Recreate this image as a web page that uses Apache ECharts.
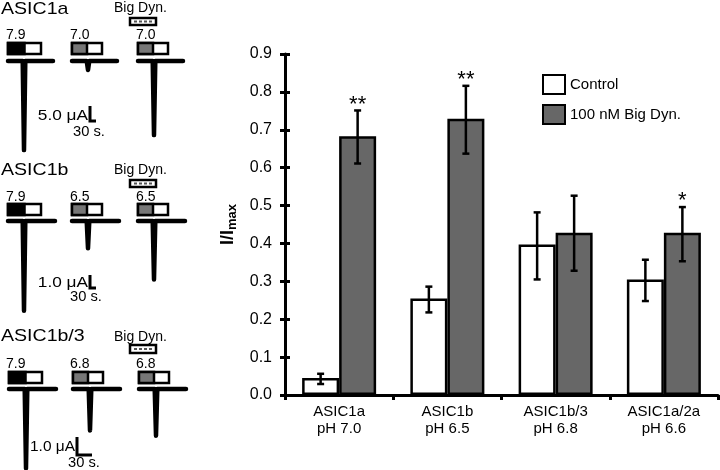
<!DOCTYPE html>
<html><head><meta charset="utf-8">
<script src="https://cdn.jsdelivr.net/npm/echarts@6/dist/echarts.min.js"></script>
<style>html,body{margin:0;padding:0;background:#fff}#c{width:720px;height:470px}</style>
</head><body><div id="c"></div>
<script>
// ---------- data: bar chart ----------
const categories = ['ASIC1a\npH 7.0', 'ASIC1b\npH 6.5', 'ASIC1b/3\npH 6.8', 'ASIC1a/2a\npH 6.6'];
const controlValues = [0.045, 0.255, 0.397, 0.305];
const dynValues = [0.683, 0.729, 0.428, 0.428];
const controlErrLow = [0.029, 0.218, 0.305, 0.248];
const controlErrHigh = [0.056, 0.286, 0.482, 0.357];
const dynErrLow = [0.611, 0.637, 0.328, 0.353];
const dynErrHigh = [0.751, 0.816, 0.526, 0.496];
const significance = ['**', '**', '', '*'];
const yTicks = [0, 0.1, 0.2, 0.3, 0.4, 0.5, 0.6, 0.7, 0.8, 0.9];
const seriesNames = ['Control', '100 nM Big Dyn.'];

// ---------- data: example traces ----------
const rowTitles = ['ASIC1a', 'ASIC1b', 'ASIC1b/3'];
const rowPH = [['7.9', '7.0', '7.0'], ['7.9', '6.5', '6.5'], ['7.9', '6.8', '6.8']];
const tracePeaks = [[29.7, 3.0, 24.7], [6.9, 2.1, 4.5], [4.4, 2.3, 2.6]]; // µA
const scaleCurrent = [5.0, 1.0, 1.0]; // µA
const scaleTime = [30, 30, 30]; // s
const scaleCurrentLabels = ['5.0 μA', '1.0 μA', '1.0 μA'];
const scaleTimeLabel = '30 s.';
const dynLabel = 'Big Dyn.';

// ---------- layout (not data) ----------
const FONT = 'Liberation Sans, Arial, sans-serif';
const rowLayout = [
  {title: 9, dyn: 8, dynBox: 18, dynBoxH: 7, ph: 35, box: 43, base: 61, spp: 5, ppu: 3, h: 96, ymin: -32,
   traceX: [8, 72, 138], spikeOff: 16, len: 45, scaleX: 90, scaleY: 121, curLblX: 88, curLblY: 116, lblSx: 1.15, tLblX: 73, tLblY: 132},
  {title: 170, dyn: 170, dynBox: 180, dynBoxH: 7, ph: 197, box: 204, base: 221, spp: 5, ppu: 13, h: 97.5, ymin: -7.5,
   traceX: [8, 72, 138], spikeOff: 16, len: 47, scaleX: 90, scaleY: 288, curLblX: 88, curLblY: 283, lblSx: 1.15, tLblX: 70, tLblY: 297},
  {title: 336, dyn: 337, dynBox: 345, dynBoxH: 8, ph: 364, box: 372, base: 389, spp: 2, ppu: 18, h: 81, ymin: -4.5,
   traceX: [9, 73, 139], spikeOff: 17, len: 47, scaleX: 77, scaleY: 455, curLblX: 75, curLblY: 447, lblSx: 1.03, tLblX: 68, tLblY: 463}
];
const boxW = [33, 30, 30];
const BAR_W = 37;

const chart = echarts.init(document.getElementById('c'), null, {renderer: 'canvas'});

const grids = [{left: 285, right: 2, top: 54, bottom: 75, containLabel: false}];
const xAxes = [{
  type: 'category', gridIndex: 0, data: categories,
  axisLine: {lineStyle: {color: '#000', width: 3}},
  axisTick: {show: true, length: 5, lineStyle: {color: '#000', width: 3}},
  axisLabel: {color: '#000', fontSize: 15, fontFamily: FONT, lineHeight: 17, margin: 8}
}];
const yAxes = [{
  type: 'value', gridIndex: 0, position: 'left', min: yTicks[0], max: yTicks[yTicks.length - 1], interval: 0.1,
  axisLine: {show: true, lineStyle: {color: '#000', width: 3}},
  axisTick: {show: true, length: 5, lineStyle: {color: '#000', width: 3}},
  splitLine: {show: false},
  axisLabel: {color: '#000', fontSize: 16, fontFamily: FONT, margin: 13, formatter: v => v.toFixed(1)},
  name: '{a|I/I}{b|max}', nameLocation: 'middle', nameRotate: 90, nameGap: 30,
  nameTextStyle: {rich: {
    a: {fontSize: 18, fontWeight: 'bold', fontFamily: FONT, color: '#000', lineHeight: 22},
    b: {fontSize: 13, fontWeight: 'bold', fontFamily: FONT, color: '#000', lineHeight: 13, verticalAlign: 'bottom'}
  }}
}, {
  type: 'value', gridIndex: 0, position: 'left', offset: 0, min: yTicks[0], max: yTicks[yTicks.length - 1], interval: 0.1,
  axisLine: {show: false}, axisLabel: {show: false}, splitLine: {show: false},
  axisTick: {show: true, inside: true, length: 5, lineStyle: {color: '#000', width: 3}}
}];

const series = [
  {name: seriesNames[0], type: 'bar', xAxisIndex: 0, yAxisIndex: 0, data: controlValues, barWidth: BAR_W, barGap: '0%',
   itemStyle: {color: '#fff', borderColor: '#000', borderWidth: 2.5}},
  {name: seriesNames[1], type: 'bar', xAxisIndex: 0, yAxisIndex: 0, data: dynValues, barWidth: BAR_W, barGap: '0%',
   itemStyle: {color: '#676767', borderColor: '#000', borderWidth: 2.5}}
];

function errSeries(lows, highs, offset, sigs) {
  return {
    type: 'custom', name: 'err' + offset, xAxisIndex: 0, yAxisIndex: 0, silent: true, z: 5,
    data: lows.map((l, i) => [i, l, highs[i]]),
    renderItem: function (params, api) {
      const i = api.value(0);
      const lo = api.coord([i, api.value(1)]);
      const hi = api.coord([i, api.value(2)]);
      const x = lo[0] + offset;
      const st = {stroke: '#000', lineWidth: 2.5};
      const ch = [
        {type: 'line', shape: {x1: x, y1: hi[1], x2: x, y2: lo[1]}, style: st},
        {type: 'line', shape: {x1: x - 3.5, y1: hi[1], x2: x + 3.5, y2: hi[1]}, style: st},
        {type: 'line', shape: {x1: x - 3.5, y1: lo[1], x2: x + 3.5, y2: lo[1]}, style: st}
      ];
      if (sigs && sigs[i]) {
        ch.push({type: 'text', style: {text: sigs[i], x: x, y: hi[1] - 17, textAlign: 'center', textVerticalAlign: 'top',
          font: '22px ' + FONT, fill: '#000'}});
      }
      return {type: 'group', children: ch};
    }
  };
}
series.push(errSeries(controlErrLow, controlErrHigh, -BAR_W / 2, null));
series.push(errSeries(dynErrLow, dynErrHigh, BAR_W / 2, significance));

// ---------- left panel: traces ----------
const graphics = [];
function txt(str, x, yMid, size, sx, align) {
  return {type: 'text', x: x, y: yMid, scaleX: sx || 1, originX: 0, originY: 0,
    style: {text: str, font: size + 'px ' + FONT, fill: '#000', textAlign: align || 'left',
      textVerticalAlign: 'middle', verticalAlign: 'middle', align: align || 'left'}};
}
rowLayout.forEach((L, r) => {
  const gi = grids.length;
  grids.push({left: 0, top: L.base, width: 200, height: L.h});
  xAxes.push({type: 'value', gridIndex: gi, min: 0, max: 200 * L.spp, show: false});
  const yi = yAxes.length;
  yAxes.push({type: 'value', gridIndex: gi, min: L.ymin, max: 0, show: false});
  tracePeaks[r].forEach((pk, j) => {
    const s = L.traceX[j] * L.spp, sp = (L.traceX[j] + L.spikeOff) * L.spp, e = (L.traceX[j] + L.len) * L.spp;
    series.push({type: 'line', xAxisIndex: gi, yAxisIndex: yi, silent: true, clip: false, symbol: 'none', animation: false,
      lineStyle: {color: '#000', width: 4.5, join: 'round', cap: 'round'},
      data: [[s, 0], [sp - 1.3 * L.spp, 0], [sp, -pk], [sp + 1.3 * L.spp, 0], [e, 0]]});
  });
  // scale bar
  const cx = L.scaleX * L.spp, cy = -(L.scaleY - L.base) / L.ppu;
  series.push({type: 'line', xAxisIndex: gi, yAxisIndex: yi, silent: true, clip: false, symbol: 'none', animation: false,
    lineStyle: {color: '#000', width: 3, join: 'miter'},
    data: [[cx, cy + scaleCurrent[r]], [cx, cy], [cx + scaleTime[r], cy]]});

  // texts
  graphics.push(txt(rowTitles[r], 1, L.title, 17, 1.15));
  graphics.push(txt(dynLabel, 114, L.dyn, 14, 1));
  graphics.push({type: 'rect', shape: {x: 130, y: L.dynBox, width: 26, height: L.dynBoxH},
    style: {fill: '#fff', stroke: '#000', lineWidth: 2.5}});
  graphics.push({type: 'line', shape: {x1: 134, y1: L.dynBox + L.dynBoxH / 2, x2: 152, y2: L.dynBox + L.dynBoxH / 2},
    style: {stroke: '#555', lineWidth: 2, lineDash: [3, 2]}});
  const phX = [6, 70, 136];
  rowPH[r].forEach((t, j) => {
    graphics.push(txt(t, phX[j], L.ph, 14, 1));
    const bx = L.traceX[j], w = boxW[j];
    graphics.push({type: 'rect', shape: {x: bx, y: L.box, width: w, height: 11},
      style: {fill: '#fff', stroke: '#000', lineWidth: 2.5}});
    graphics.push({type: 'rect', shape: {x: bx, y: L.box, width: w / 2, height: 11},
      style: {fill: j === 0 ? '#000' : '#777', stroke: '#000', lineWidth: 2.5}});
  });
  graphics.push(txt(scaleCurrentLabels[r], L.curLblX, L.curLblY, 15, L.lblSx, 'right'));
  graphics.push(txt(scaleTimeLabel, L.tLblX, L.tLblY, 14, 1.05));
});

chart.setOption({
  backgroundColor: '#fff',
  animation: false,
  textStyle: {fontFamily: FONT},
  grid: grids,
  xAxis: xAxes,
  yAxis: yAxes,
  legend: {
    data: seriesNames, orient: 'vertical', left: 537, top: 69, itemWidth: 22, itemHeight: 19, itemGap: 9,
    icon: 'rect', selectedMode: false,
    textStyle: {color: '#000', fontSize: 15, fontFamily: FONT}
  },
  graphic: graphics,
  series: series
});
</script></body></html>
